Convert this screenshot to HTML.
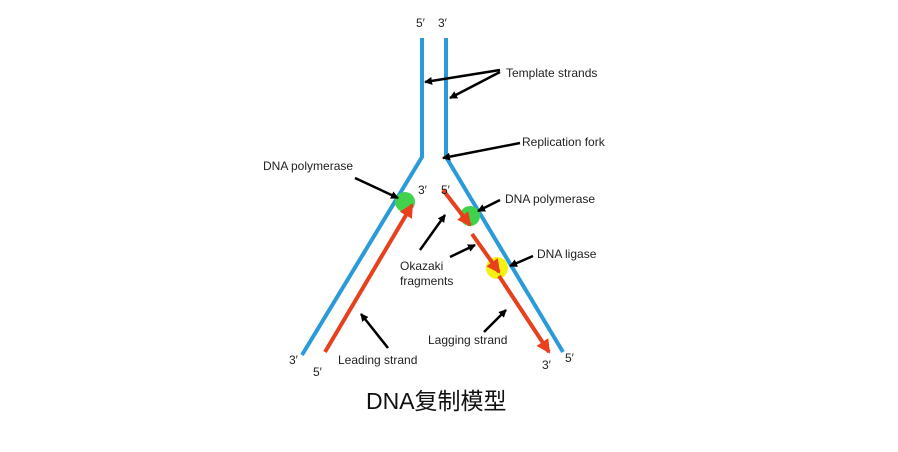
<!DOCTYPE html>
<html><head><meta charset="utf-8"><style>
html,body{margin:0;padding:0;background:#fff;}
svg{display:block;}
text{font-family:"Liberation Sans",sans-serif;font-size:12px;fill:#222;}
</style></head><body>
<svg width="898" height="452" viewBox="0 0 898 452" xmlns="http://www.w3.org/2000/svg">
<defs>
<marker id="ba" markerWidth="8" markerHeight="8" refX="7" refY="4" orient="auto" markerUnits="userSpaceOnUse" viewBox="0 0 8 8"><path d="M0,0 L8,4 L0,8 z" fill="#000"/></marker>
<marker id="oa" markerWidth="14" markerHeight="14" refX="12" refY="7" orient="auto" markerUnits="userSpaceOnUse" viewBox="0 0 14 14"><path d="M0,0 L14,7 L0,14 z" fill="#e8401c"/></marker>
</defs>
<polyline points="422,38 422,157 302,355" fill="none" stroke="#2a9ad8" stroke-width="4"/>
<polyline points="446,38 446,157 563,352" fill="none" stroke="#2a9ad8" stroke-width="4"/>
<circle cx="405" cy="202" r="10" fill="#3fd24a"/>
<circle cx="470" cy="216" r="10" fill="#3fd24a"/>
<circle cx="497" cy="268" r="11" fill="#f4f010"/>
<line x1="325" y1="352" x2="412" y2="205" stroke="#e8401c" stroke-width="4" marker-end="url(#oa)"/>
<line x1="443" y1="190" x2="470" y2="225" stroke="#e8401c" stroke-width="4" marker-end="url(#oa)"/>
<line x1="472" y1="234" x2="499" y2="272" stroke="#e8401c" stroke-width="4" marker-end="url(#oa)"/>
<line x1="499" y1="276" x2="549" y2="352" stroke="#e8401c" stroke-width="4" marker-end="url(#oa)"/>
<g stroke="#000" stroke-width="2.5" fill="none">
<line x1="500" y1="70" x2="425" y2="82" marker-end="url(#ba)"/>
<line x1="500" y1="72" x2="450" y2="98" marker-end="url(#ba)"/>
<line x1="520" y1="143" x2="443" y2="158" marker-end="url(#ba)"/>
<line x1="355" y1="178" x2="398" y2="198" marker-end="url(#ba)"/>
<line x1="420" y1="250" x2="445" y2="215" marker-end="url(#ba)"/>
<line x1="450" y1="257" x2="475" y2="245" marker-end="url(#ba)"/>
<line x1="500" y1="200" x2="478" y2="211" marker-end="url(#ba)"/>
<line x1="533" y1="256" x2="510" y2="266" marker-end="url(#ba)"/>
<line x1="388" y1="348" x2="361" y2="314" marker-end="url(#ba)"/>
<line x1="484" y1="332" x2="506" y2="310" marker-end="url(#ba)"/>
</g>
<text x="416" y="27">5′</text><text x="438" y="27">3′</text>
<text x="506" y="77">Template strands</text>
<text x="522" y="146">Replication fork</text>
<text x="263" y="170">DNA polymerase</text>
<text x="418" y="194">3′</text><text x="441" y="194">5′</text>
<text x="505" y="203">DNA polymerase</text>
<text x="537" y="258">DNA ligase</text>
<text x="400" y="270">Okazaki</text>
<text x="400" y="285">fragments</text>
<text x="428" y="344">Lagging strand</text>
<text x="338" y="364">Leading strand</text>
<text x="289" y="364">3′</text><text x="313" y="376">5′</text>
<text x="542" y="369">3′</text><text x="565" y="362">5′</text>
<text x="366" y="409" style="font-family:'Liberation Sans','Noto Sans CJK SC',sans-serif;font-size:23px;fill:#111">DNA复制模型</text>
</svg>
</body></html>
